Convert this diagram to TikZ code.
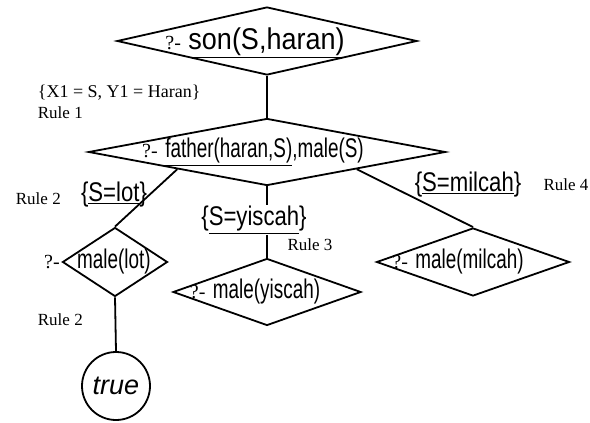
\documentclass[tikz,border=0pt]{standalone}
\usepackage{fontspec}
\setmainfont{Liberation Serif}
\setsansfont{Liberation Sans}
\usepackage{tikz}
\usetikzlibrary{shapes,positioning,calc}

\newcommand{\narrow}[2]{\scalebox{#1}[1]{#2}}
\newcommand{\qm}{{\rmfamily\fontsize{20}{22}\selectfont ?-}}

\begin{document}
\begin{tikzpicture}[x=1pt,y=-1pt,line width=1.8pt,
    goal/.style={draw, diamond, inner sep=0pt},
    txt/.style={font=\sffamily\fontsize{27}{29}\selectfont, inner sep=1pt},
    rulelbl/.style={font=\fontsize{17}{19}\selectfont, inner sep=0pt}]
    \useasboundingbox (0,0) rectangle (590,423);

    % goals of the search tree
    \node[goal, minimum width=300pt, minimum height=68pt] (g0) at (267,41) {};
    \node[goal, minimum width=357pt, minimum height=67pt] (g1) at (267,152) {};
    \node[goal, minimum width=105pt, minimum height=69pt] (g2) at (115,262) {};
    \node[goal, minimum width=188pt, minimum height=67pt] (g3) at (267,292) {};
    \node[goal, minimum width=193pt, minimum height=68pt] (g4) at (473,262) {};
    \node[draw, circle, minimum size=68pt, inner sep=0pt] (t) at (116,386)
        {\sffamily\itshape\fontsize{27}{29}\selectfont true};

    \node[txt] (q0) at (255,43) {\qm\ \narrow{0.9}{\fontsize{30}{32}\selectfont\underline{son(S,haran)}}};
    \node[txt] (q1) at (253,152) {\qm\ \narrow{0.7}{\underline{father(haran,S)},male(S)}};
    \node[txt] (q2) at (114,262) {\narrow{0.7}{male(lot)}};
    \node[left, inner sep=1pt] (p2) at (g2.west) {\qm};
    \node[txt] (q3) at (255,292) {\qm\ \narrow{0.7}{male(yiscah)}};
    \node[txt] (q4) at (458,262) {\qm\ \narrow{0.7}{male(milcah)}};

    \draw (g0.south) -- (g1.north);
    \draw (g1.south west) -- (g2.north);
    \draw (g1.south) -- (g3.north);
    \draw (g1.south east) -- (g4.north);
    \draw (g2.south) -- (t.north);

    % bindings
    \node[txt] (b1) at (114,195) {\narrow{0.82}{\{\underline{S=lot}\}}};
    \node[txt, fill=white] (b2) at (254,220) {\narrow{0.82}{\{\underline{S=yiscah}\}}};
    \node[txt] (b3) at (468,185) {\narrow{0.82}{\{\underline{S=milcah}\}}};

    % rules
    \node[rulelbl, anchor=west, font=\fontsize{18}{20}\selectfont] (x1) at (37,93) {\{X1 = S, Y1 = Haran\}};
    \node[rulelbl, anchor=west] (r1) at (37,113) {Rule 1};
    \node[rulelbl, anchor=west] (r2) at (15,199) {Rule 2};
    \node[rulelbl] (r3) at (310,245) {Rule 3};
    \node[rulelbl] (r4) at (566,185) {Rule 4};
    \node[rulelbl, anchor=west] (r5) at (37,320) {Rule 2};
\end{tikzpicture}
\end{document}
